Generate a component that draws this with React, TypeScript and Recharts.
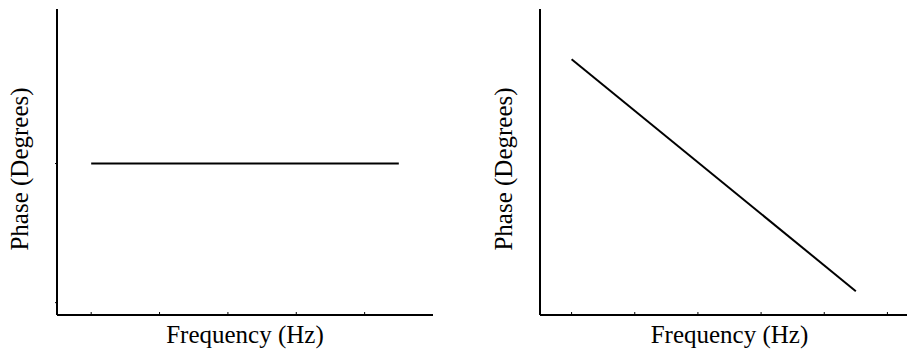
import { Label, Line, LineChart, XAxis, YAxis } from "recharts";

// frequency points where each phase trace starts and ends
const freqHz = [1, 5.5];
// phase traces, in degrees
const flatPhase = [0, 0];
const linearPhase = [-59, -332];
// axis ticks
const flatFreqTicks = [1, 2, 3, 4, 5];
const linearFreqTicks = [1, 2, 3, 4, 5, 6];
const flatPhaseTicks = [-90, 0];

const flatData = freqHz.map((f, i) => ({ f, phase: flatPhase[i] }));
const linearData = freqHz.map((f, i) => ({ f, phase: linearPhase[i] }));

const serif = '"Liberation Serif", "Times New Roman", serif';
const ink = "#000";
const titleSize = 25;

function yTitle(baselineX: number) {
  return (props: any) => {
    const vb = props?.viewBox ?? {};
    const cy = (vb.y ?? 1) + (vb.height ?? 306) / 2 + 7;
    return (
      <text
        x={baselineX}
        y={cy}
        transform={`rotate(-90, ${baselineX}, ${cy})`}
        textAnchor="middle"
        fontFamily={serif}
        fontSize={titleSize}
        fill={ink}
      >
        Phase (Degrees)
      </text>
    );
  };
}

function xTitle(props: any) {
  const vb = props?.viewBox ?? {};
  const cx = (vb.x ?? 0) + (vb.width ?? 0) / 2;
  const y = (vb.y ?? 307) + 28;
  return (
    <text x={cx} y={y} textAnchor="middle" fontFamily={serif} fontSize={titleSize} fill={ink}>
      Frequency (Hz)
    </text>
  );
}

const blank = () => "";

function PhasePlot({
  data,
  freqDomain,
  freqTicks,
  phaseDomain,
  phaseTicks,
  yAxisWidth,
  rightMargin,
  titleX,
}: {
  data: { f: number; phase: number }[];
  freqDomain: [number, number];
  freqTicks: number[];
  phaseDomain: [number, number];
  phaseTicks?: number[];
  yAxisWidth: number;
  rightMargin: number;
  titleX: number;
}) {
  return (
    <LineChart
      width={460}
      height={342}
      data={data}
      margin={{ top: 1, right: rightMargin, bottom: 0, left: 0 }}
    >
      <XAxis
        dataKey="f"
        type="number"
        domain={freqDomain}
        ticks={freqTicks}
        allowDataOverflow
        height={35}
        axisLine={{ stroke: ink, strokeWidth: 2 }}
        tickLine={{ stroke: ink }}
        tickSize={-3}
        tickFormatter={blank}
      >
        <Label content={xTitle} />
      </XAxis>
      <YAxis
        type="number"
        domain={phaseDomain}
        ticks={phaseTicks ?? []}
        allowDataOverflow
        width={yAxisWidth}
        axisLine={{ stroke: ink, strokeWidth: 2 }}
        tickLine={phaseTicks ? { stroke: ink } : false}
        tickSize={2}
        tickFormatter={blank}
      >
        <Label content={yTitle(titleX)} />
      </YAxis>
      <Line
        type="linear"
        dataKey="phase"
        stroke={ink}
        strokeWidth={2}
        dot={false}
        isAnimationActive={false}
      />
    </LineChart>
  );
}

export default function App() {
  return (
    <div
      style={{
        position: "fixed",
        left: 0,
        top: 0,
        width: 907,
        height: 350,
        overflow: "hidden",
        background: "#fff",
      }}
    >
      <div style={{ position: "absolute", left: 8, top: 8 }}>
        <PhasePlot
          data={flatData}
          freqDomain={[0.5, 6]}
          freqTicks={flatFreqTicks}
          phaseDomain={[-98, 100]}
          phaseTicks={flatPhaseTicks}
          yAxisWidth={49}
          rightMargin={35}
          titleX={20}
        />
      </div>
      <div style={{ position: "absolute", left: 468, top: 8 }}>
        <PhasePlot
          data={linearData}
          freqDomain={[0.5, 6.5]}
          freqTicks={linearFreqTicks}
          phaseDomain={[-360, 0]}
          yAxisWidth={72}
          rightMargin={9}
          titleX={44}
        />
      </div>
    </div>
  );
}
